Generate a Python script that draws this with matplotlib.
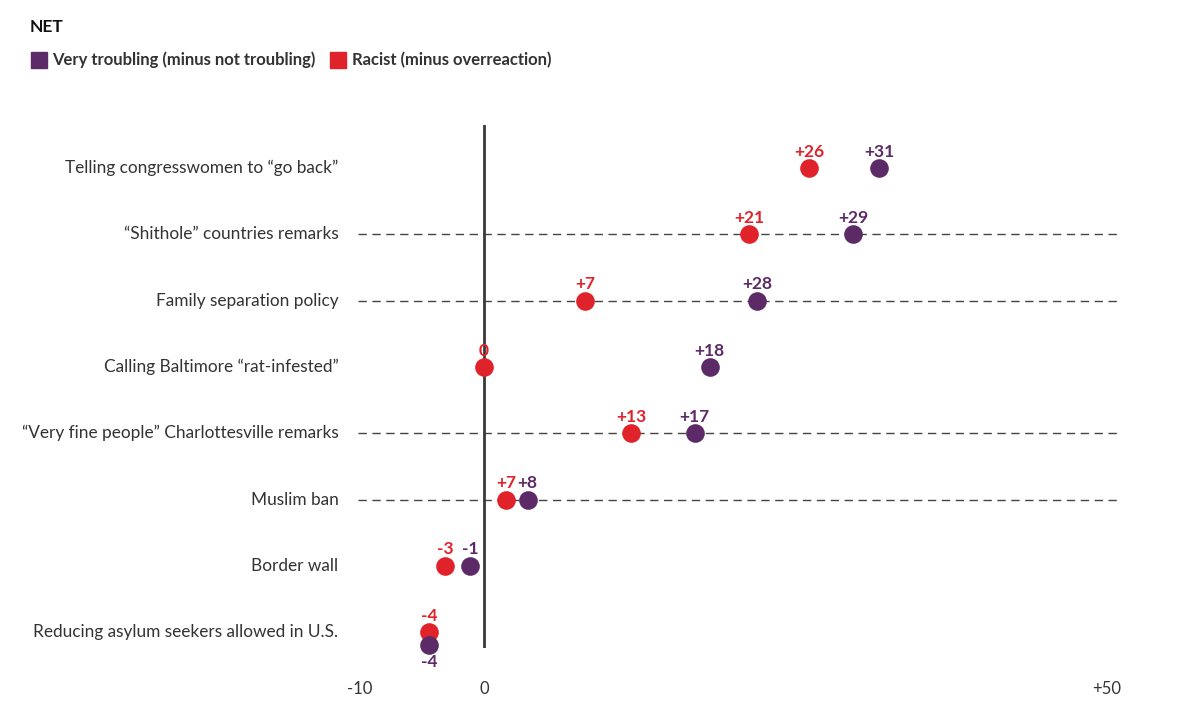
import numpy as np
import matplotlib.pyplot as plt
from matplotlib.patches import Rectangle

plt.rcParams['font.family'] = ['Lato', 'DejaVu Sans']

# categories, top to bottom
items = ['Telling congresswomen to \u201cgo back\u201d',
         '\u201cShithole\u201d countries remarks',
         'Family separation policy',
         'Calling Baltimore \u201crat-infested\u201d',
         '\u201cVery fine people\u201d Charlottesville remarks',
         'Muslim ban',
         'Border wall',
         'Reducing asylum seekers allowed in U.S.']

# dot positions as drawn on the chart
troubling = [31.7, 29.6, 21.9, 18.1, 16.9, 3.5, -1.1, -4.4]
racist = [26.1, 21.3, 8.1, 0.0, 11.8, 1.8, -3.1, -4.4]

# printed labels
troubling_lbl = ['+31', '+29', '+28', '+18', '+17', '+8', '-1', '-4']
racist_lbl = ['+26', '+21', '+7', '0', '+13', '+7', '-3', '-4']

dashed_rows = [1, 2, 4, 5]

purple = '#5c2a67'
red = '#e0232b'
grey = '#333333'

fig = plt.figure(figsize=(12, 7.22), dpi=100)
ax = fig.add_axes([358 / 1200, 1 - 648 / 722, 762 / 1200, (648 - 125) / 722])
ax.set_xlim(-10.11, 51.04)
ax.set_ylim(7.24, -0.65)

rows = np.arange(len(items), dtype=float)
y_t = rows.copy()
y_r = rows.copy()
# last row: red sits slightly above purple
y_t[-1] += 0.2

for r in dashed_rows:
    ax.axhline(r, color='#444444', lw=1, ls=(0, (6, 4)), zorder=1)
ax.axvline(0, color='#3a3a3a', lw=2, zorder=2)

ax.scatter(racist, y_r, s=180, color=red, zorder=3, lw=0, clip_on=False)
ax.scatter(troubling, y_t, s=180, color=purple, zorder=4, lw=0, clip_on=False)

for i in range(len(items)):
    ax.annotate(racist_lbl[i], (racist[i], y_r[i]), xytext=(0, 6),
                textcoords='offset points', ha='center', va='bottom',
                color=red, fontsize=12.5, fontweight='bold')
    off = (0, -6) if i == len(items) - 1 else (0, 6)
    va = 'top' if i == len(items) - 1 else 'bottom'
    ax.annotate(troubling_lbl[i], (troubling[i], y_t[i]), xytext=off,
                textcoords='offset points', ha='center', va=va,
                color=purple, fontsize=12.5, fontweight='bold')
    ax.annotate(items[i], xy=(0, rows[i]), xycoords=('axes fraction', 'data'),
                xytext=(-14, 0), textcoords='offset points', ha='right',
                va='center', color=grey, fontsize=12.4)

ax.set_xticks([-10, 0, 50])
ax.set_xticklabels(['-10', '0', '+50'], color=grey, fontsize=12)
ax.tick_params(axis='x', length=0, pad=24)
ax.set_yticks([])
for s in ax.spines.values():
    s.set_visible(False)

# header and legend
fig.text(30 / 1200, 1 - 27 / 722, 'NET', fontsize=12.5, fontweight='bold',
         color='#111111', va='center')
fig.patches.append(Rectangle((31 / 1200, 1 - 68 / 722), 16 / 1200, 16 / 722,
                             transform=fig.transFigure, color=purple))
fig.text(52 / 1200, 1 - 60 / 722, 'Very troubling (minus not troubling)',
         fontsize=12, fontweight='bold', color=grey, va='center')
fig.patches.append(Rectangle((330 / 1200, 1 - 68 / 722), 16 / 1200, 16 / 722,
                             transform=fig.transFigure, color=red))
fig.text(352 / 1200, 1 - 60 / 722, 'Racist (minus overreaction)',
         fontsize=12, fontweight='bold', color=grey, va='center')

plt.savefig('out.png', dpi=100)
plt.close()
